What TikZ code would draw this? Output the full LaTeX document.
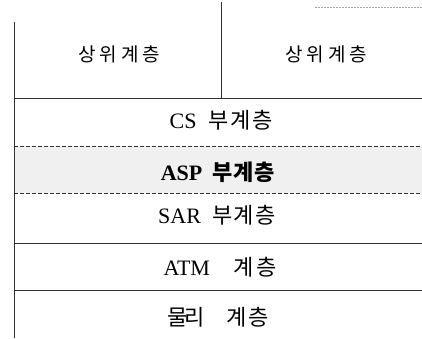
\documentclass[tikz,border=0pt]{standalone}
\usepackage{fontspec}
\setmainfont{Liberation Serif}
\newfontfamily\krfont{Noto Sans CJK KR}
\newcommand{\K}[1]{{\krfont #1}}
\tikzset{
  x=1pt, y=-1pt,
  solidrule/.style={draw=black!80, line width=0.9pt},
  dashrule/.style={draw=black!80, line width=0.9pt, dash pattern=on 4pt off 2pt},
  label/.style={inner sep=0pt, anchor=base, font=\fontsize{22}{24}\selectfont},
  toplabel/.style={inner sep=0pt, anchor=base, font=\fontsize{19}{21}\selectfont},
}
\begin{document}
\begin{tikzpicture}
\useasboundingbox (0,0) rectangle (422,338);
% ASP halftone band
\fill[black!6] (14,146) rectangle (422,193);
% borders
\draw[solidrule] (14,22) -- (14,338);
\draw[solidrule] (221,2) -- (221,98);
\draw[solidrule] (14,98) -- (422,98);
\draw[dashrule] (14,146) -- (422,146);
\draw[dashrule] (14,193) -- (422,193);
\draw[solidrule] (14,243) -- (422,243);
\draw[solidrule] (14,290) -- (422,290);
\draw[black!35, line width=0.6pt, dash pattern=on 1.5pt off 1.5pt] (315,7) -- (422,7);
% labels
\node[toplabel] (upL) at (119,61) {\K{상\hspace{4pt}위\hspace{4pt}계\hspace{4pt}층}};
\node[toplabel] (upR) at (326,61) {\K{상\hspace{4pt}위\hspace{4pt}계\hspace{4pt}층}};
\node[label] (cs) at (221,128) {CS\hspace{12pt}\K{부\hspace{1.5pt}계\hspace{1.5pt}층}};
\node[label, font=\fontsize{22}{24}\selectfont\bfseries] (asp) at (218,180) {ASP\hspace{10pt}\K{\bfseries 부\hspace{1pt}계\hspace{1pt}층}};
\node[label] (sar) at (217,223) {SAR\hspace{11pt}\K{부\hspace{1.5pt}계\hspace{1.5pt}층}};
\node[label] (atm) at (220,275) {ATM\hspace{24pt}\K{계\hspace{2pt}층}};
\node[label] (phy) at (218,325) {\K{물\hspace{-3pt}리\hspace{22pt}계\hspace{2pt}층}};
\end{tikzpicture}
\end{document}
